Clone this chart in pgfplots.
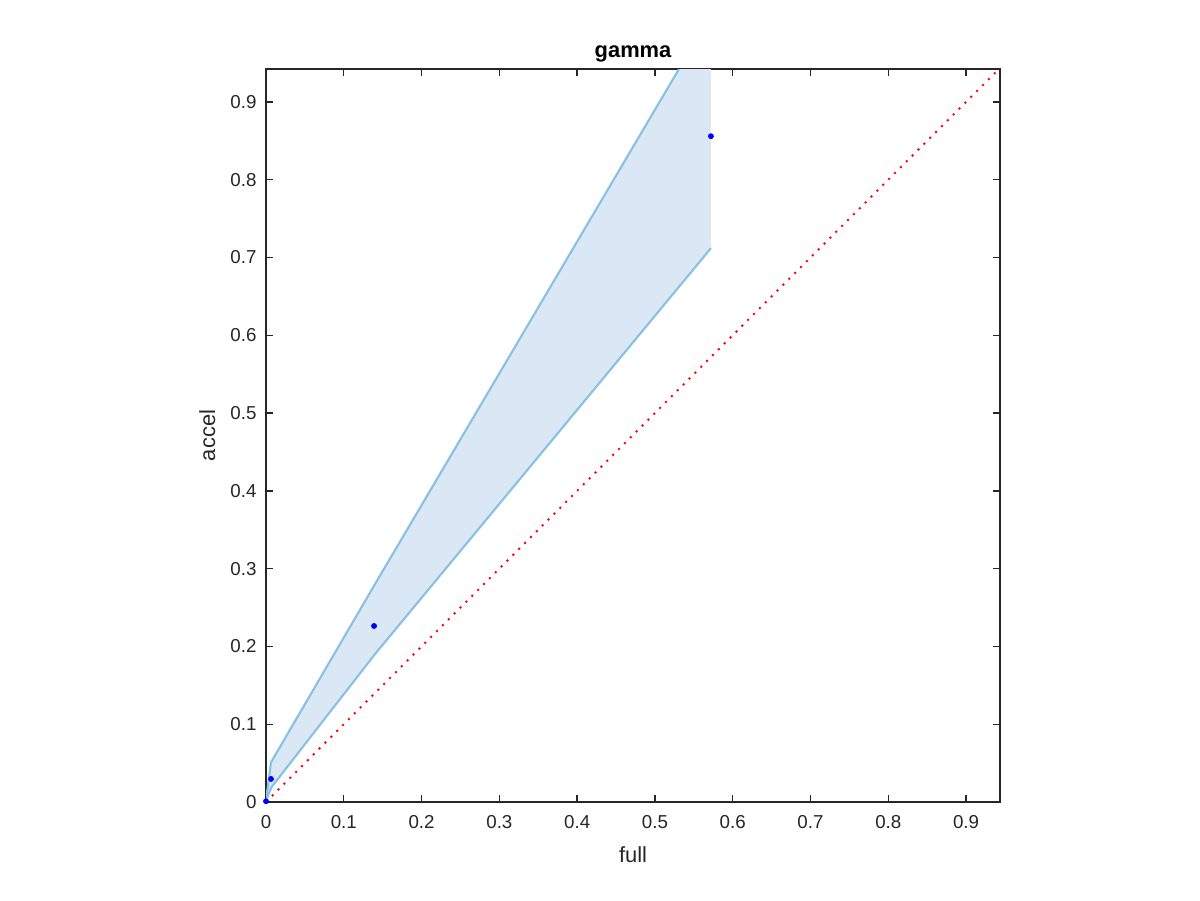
\documentclass[border=0pt]{standalone}
\usepackage{pgfplots}
\pgfplotsset{compat=1.18}
\usepackage{fontspec}
\setmainfont{Liberation Sans}
\definecolor{axgray}{RGB}{38,38,38}
\definecolor{bandfill}{RGB}{217,232,244}
\definecolor{bandline}{RGB}{137,192,228}
\begin{document}
\begin{tikzpicture}[x=1cm,y=1cm]
\useasboundingbox (0,0) rectangle (16,12);
\begin{axis}[
  at={(3.547cm,1.307cm)}, anchor=south west,
  scale only axis, width=9.787cm, height=9.773cm,
  xmin=0, xmax=0.9437, ymin=0, ymax=0.9424,
  xtick={0,0.1,0.2,0.3,0.4,0.5,0.6,0.7,0.8,0.9},
  ytick={0,0.1,0.2,0.3,0.4,0.5,0.6,0.7,0.8,0.9},
  tick align=inside, xtick pos=both, ytick pos=both,
  major tick length=0.093cm,
  axis line style={axgray, line width=0.5pt},
  every tick/.style={axgray, line width=0.5pt},
  /pgf/number format/assume math mode=true,
  ticklabel style={font=\fontsize{7.1}{8.5}\selectfont, text=axgray},
  xticklabel style={anchor=base, inner sep=0pt, yshift=-0.36cm},
  yticklabel style={anchor=east, inner sep=0pt, xshift=-0.12cm},
  title={gamma},
  title style={font=\fontsize{8.3}{10}\selectfont\bfseries, at={(axis description cs:0.5,1)}, anchor=base, yshift=-1.65pt, inner sep=0pt},
  xlabel={full},
  xlabel style={font=\fontsize{8.3}{10}\selectfont, text=axgray, at={(axis description cs:0.5,0)}, anchor=base, yshift=-0.813cm, inner sep=0pt},
  ylabel={accel},
  ylabel style={font=\fontsize{8.3}{10}\selectfont, text=axgray, at={(axis description cs:-0.0695,0.5)}, anchor=base, rotate=0, inner sep=0pt},
]
% band fill
\addplot[fill=bandfill, draw=none, forget plot] coordinates {
  (0,0.002) (0.0064,0.051) (0.14,0.280) (0.572,1.012)
  (0.572,0.712) (0.14,0.190) (0.007,0.019) (0,0.002)
} -- cycle;
% band edges
\addplot[bandline, line width=0.8pt, forget plot] coordinates {
  (0,0.002) (0.0064,0.051) (0.14,0.280) (0.572,1.012)
};
\addplot[bandline, line width=0.8pt, forget plot] coordinates {
  (0,0.002) (0.007,0.019) (0.14,0.190) (0.572,0.712)
};
% diagonal
\addplot[red, line width=0.75pt, dash pattern=on 0.75pt off 2.4pt, forget plot] coordinates {
  (0,0) (0.9437,0.9437)
};
% points
\addplot[only marks, mark=*, mark size=0.9pt, blue, forget plot] coordinates {
  (0,0.001) (0.0064,0.0296) (0.1389,0.2263) (0.572,0.856)
};
\end{axis}
\end{tikzpicture}
\end{document}
